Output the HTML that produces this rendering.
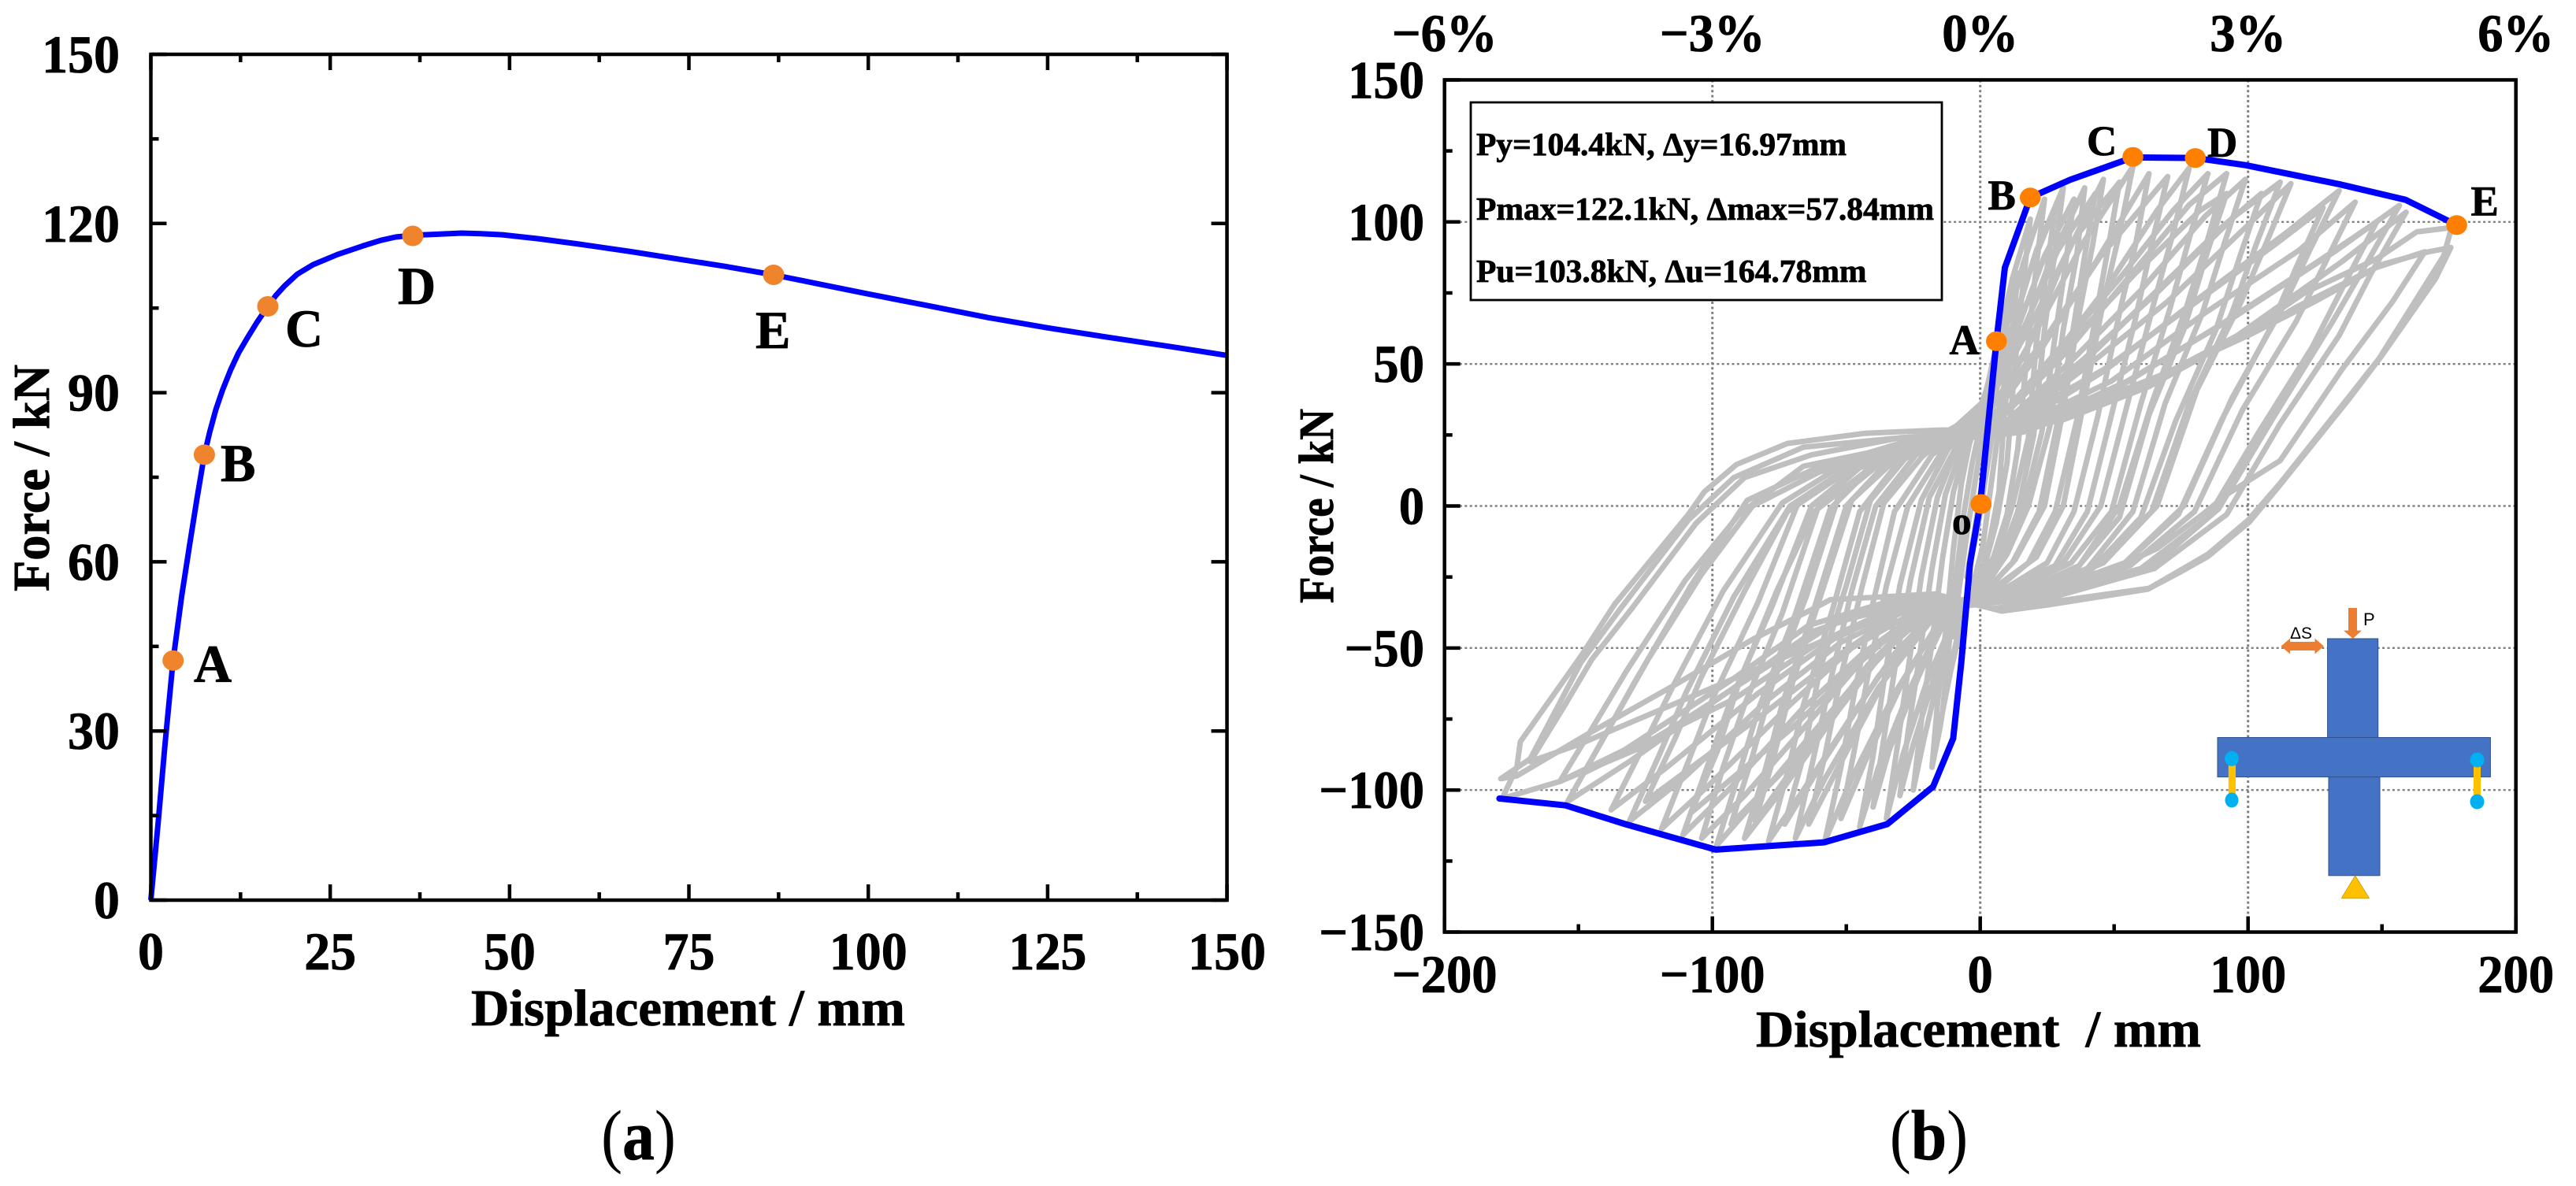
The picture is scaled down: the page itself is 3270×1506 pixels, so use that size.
<!DOCTYPE html>
<html lang="en">
<head>
<meta charset="utf-8">
<title>Force-displacement curves</title>
<style>
html,body{margin:0;padding:0;background:#fff;}
svg{display:block;}
text{font-family:"Liberation Serif","DejaVu Serif",serif;font-weight:bold;fill:#000;stroke:#000;stroke-width:0.8px;}
</style>
</head>
<body>
<svg id="fig" xmlns="http://www.w3.org/2000/svg" width="3270" height="1506" viewBox="0 0 3270 1506">
  <rect x="0" y="0" width="3270" height="1506" fill="#fff"/>
  <g id="panelA"></g>
  <g id="panelB"></g>
  <g id="schematic">
    <rect x="2954.6" y="811" width="64.1" height="125.5" fill="#4472c4" stroke="#2f528f" stroke-width="1"/>
    <rect x="2956" y="986.6" width="65" height="125.2" fill="#4472c4" stroke="#2f528f" stroke-width="1"/>
    <rect x="2815" y="936.5" width="346.4" height="50.1" fill="#4472c4" stroke="#2f528f" stroke-width="1"/>
    <polygon points="2989.7,1111.8 3007.5,1140.5 2972.3,1140.5" fill="#ffc000" stroke="#bf9000" stroke-width="0.7"/>
    <rect x="2828.8" y="964" width="9.2" height="52" fill="#ffc000"/>
    <ellipse cx="2833" cy="963.3" rx="9" ry="9.5" fill="#00b0f0"/>
    <ellipse cx="2833" cy="1016" rx="8.5" ry="9.5" fill="#00b0f0"/>
    <rect x="3140" y="966" width="9" height="52" fill="#ffc000"/>
    <ellipse cx="3144.5" cy="965" rx="9" ry="9.5" fill="#00b0f0"/>
    <ellipse cx="3144.5" cy="1018" rx="9" ry="9.5" fill="#00b0f0"/>
    <polygon points="2981,772 2992,772 2992,800.6 2998,800.6 2986.7,811 2975,800.6 2981,800.6" fill="#ed7d31"/>
    <polygon points="2895.6,820.5 2907,810.6 2907,815 2938.5,815 2938.5,810.6 2949.8,820.5 2938.5,830.5 2938.5,826 2907,826 2907,830.5" fill="#ed7d31"/>
    <text x="2907" y="811" font-size="21" style="font-family:'Liberation Sans',sans-serif;font-weight:normal;stroke:none">ΔS</text>
    <text x="3000" y="794" font-size="22" style="font-family:'Liberation Sans',sans-serif;font-weight:normal;stroke:none">P</text>
  </g>
</svg>
<script>
// Panel (a) monotonic curve
const aDisp = [0,1,2,3.1,4.3,5.4,6.4,7.46,8.2,9.06,10,11.1,12.2,13.4,14.8,16.3,17.4,18.6,20.4,22.6,26,29.5,32,34.1,36.5,40,43.3,46,49,54,59.4,67,75.5,80,86.8,93,99.6,108,116.8,125,134,142,150];
const aForce = [0,13.5,28,42.5,54,63,71,79,83,87,90.5,94,97,99.6,102.5,105.3,107.2,108.9,111,112.7,114.5,116,117,117.6,117.9,118.1,118.3,118.2,118,117.3,116.4,115,113.3,112.4,110.9,109.3,107.6,105.5,103.3,101.5,99.7,98.2,96.6];
const aPointNames = ['A','B','C','D','E'];
const aPointDisp = [3.1,7.46,16.3,36.5,86.8];
const aPointForce = [42.5,79,105.3,117.8,110.9];
const aXTicks = [0,25,50,75,100,125,150];
const aXMinor = [12.5,37.5,62.5,87.5,112.5,137.5];
const aYTicks = [0,30,60,90,120,150];
const aYMinor = [15,45,75,105,135];

// Panel (b) skeleton curve
const bSkelDisp = [-179.5,-154.8,-132.5,-98.7,-58.3,-34.7,-17.6,-10.1,-7.1,-3.8,0,6.06,9.2,18.7,33.5,57,80.3,99,133.9,158.8,177.9];
const bSkelForce = [-103,-105.4,-112,-121,-118.4,-112,-98.8,-81.8,-55.3,-20.3,0.7,58,83.9,108.6,114.8,122.7,122.5,120,113.3,107.8,98.9];
const bPointNames = ['o','A','B','C','D','E'];
const bPointDisp = [0.3,6.06,18.7,57,80.3,177.9];
const bPointForce = [0.7,58,108.6,122.9,122.5,98.9];
const bXTicks = [-200,-100,0,100,200];
const bXMinor = [-150,-50,50,150];
const bYTicks = [-150,-100,-50,0,50,100,150];
const bYMinor = [-125,-75,-25,25,75,125];
const bTopLabels = ['−6%','−3%','0%','3%','6%'];
const bGridX = [-100,0,100];
const bGridY = [-100,-50,0,50,100];

// Panel (b) hysteresis cycles: [displacement, force]
const cycle1 = [[-5,-25],[-2,-8],[1,10],[5,28],[2,10],[-1,-8],[-5,-25]];
const cycle2 = [[-10,-46],[-8,-30],[-5,-10],[-2,8],[1,25],[5,38],[10,52],[8,35],[5,14],[3,0],[1,-14],[-2,-25],[-5,-33],[-10,-46]];
const cycle3 = [[-14,-72],[-12,-52],[-9,-25],[-6,-2],[-3,15],[0,28],[4,48],[9,68],[14,82],[12,60],[9,32],[7,5],[4,-10],[1,-22],[-3,-30],[-7,-42],[-11,-58],[-14,-72]];
const cycle4 = [[-18,-92],[-16,-70],[-13,-45],[-10,-15],[-7,8],[-4,22],[1,36],[6,55],[12,80],[18.7,101],[16,78],[13,50],[10,15],[6,-6],[2,-20],[-4,-31],[-8,-44],[-12,-60],[-15,-78],[-18,-92]];
const cycle5 = [[-25,-100],[-22,-76],[-18,-48],[-14,-18],[-10,5],[-5,22],[2,40],[9,60],[16,85],[24,108],[21,85],[18,58],[14,20],[10,-3],[5,-18],[-2,-30],[-10,-42],[-16,-62],[-21,-82],[-25,-100]];
const cycle6 = [[-35,-110],[-31,-85],[-27,-58],[-22,-25],[-16,3],[-9,20],[2,38],[11,60],[21,90],[31,112],[28,90],[24,62],[20,25],[14,-2],[8,-17],[1,-28],[-10,-40],[-20,-62],[-29,-88],[-35,-110]];
const cycle7 = [[-45,-113],[-40,-88],[-36,-62],[-30,-28],[-22,2],[-12,20],[3,36],[14,56],[26,86],[39,112],[36,88],[31,62],[26,28],[18,0],[10,-17],[2,-28],[-14,-40],[-26,-64],[-38,-92],[-45,-113]];
const cycle8 = [[-58,-118],[-52,-92],[-47,-66],[-40,-34],[-32,-2],[-18,18],[4,34],[17,54],[30,84],[46,115],[42,92],[37,68],[31,34],[24,0],[13,-19],[3,-29],[-16,-42],[-32,-66],[-48,-96],[-58,-118]];
const cycle9 = [[-69,-117],[-63,-92],[-56,-62],[-48,-30],[-39,0],[-24,18],[5.7,36],[20,60],[38,92],[57,119.5],[52,96],[46,72],[39,38],[31,0],[21,-18],[5,-29],[-18,-40],[-38,-64],[-58,-96],[-69,-117]];
const cycle10 = [[-73,-112],[-66,-88],[-60,-58],[-50,-28],[-41,2],[-26,19],[5,32],[22,54],[42,84],[63,117],[58,92],[52,68],[44,32],[35,-2],[25,-20],[6,-31],[-18,-38],[-38,-60],[-60,-92],[-73,-112]];
const cycle11 = [[-79,-118],[-72,-94],[-66,-70],[-55,-36],[-45,-2],[-30,16],[7,30],[27,52],[48,78],[66,104],[78,119],[72,96],[65,72],[55,36],[45,0],[31,-20],[8,-31],[-16,-36],[-32,-52],[-48,-74],[-66,-100],[-79,-118]];
const cycle12 = [[-88,-117],[-80,-92],[-74,-70],[-62,-36],[-50,0],[-33,17],[8,32],[30,56],[52,80],[72,104],[85,117],[78,94],[71,70],[60,36],[49,-2],[34,-20],[9,-31],[-18,-36],[-35,-50],[-53,-72],[-74,-100],[-88,-117]];
const cycle13 = [[-98.4,-119.5],[-90,-94],[-83,-72],[-69,-38],[-56,-1],[-39,15],[-15,24],[9,32],[32,54],[55,80],[78,106],[92,117],[85,94],[77,70],[64,36],[52,0],[37,-21],[11,-32],[-20,-38],[-39,-54],[-59,-76],[-84,-104],[-98.4,-119.5]];
const cycle14 = [[-104,-117],[-96,-92],[-88,-70],[-74,-38],[-60,1],[-42,16],[-16,24],[10,30],[35,52],[60,76],[84,102],[99,115],[91,92],[83,68],[69,36],[57,-2],[40,-22],[12,-32],[-21,-37],[-42,-52],[-62,-74],[-88,-102],[-104,-117]];
const cycle15 = [[-111,-115.8],[-102,-92],[-93,-68],[-78,-36],[-63,0],[-45,14],[-17,23],[11,30],[39,52],[67,76],[95,102],[112,114],[103,92],[94,68],[78,36],[64,-2],[45,-20],[14,-33],[-22,-37],[-44,-52],[-67,-72],[-94,-100],[-111,-115.8]];
const cycle16 = [[-119,-113.7],[-109,-90],[-100,-68],[-83,-34],[-68,1],[-48,14],[-18,23],[12,29],[41,50],[70,72],[99,98],[116,113.5],[107,93],[97,71],[81,41],[66,0],[46,-20],[14,-33],[-24,-37],[-48,-50],[-71,-70],[-101,-98],[-119,-113.7]];
const cycle17 = [[-131,-111],[-120,-88],[-110,-66],[-92,-32],[-71,0],[-50,13],[-20,23],[13,28],[47,48],[80,72],[114,96],[134,111],[123,90],[113,70],[94,38],[76,0],[54,-20],[16,-33],[-26,-36],[-52,-48],[-79,-68],[-111,-96],[-131,-111]];
const cycle18 = [[-137.8,-107],[-126,-85],[-115,-64],[-96,-30],[-74,1],[-52,14],[-21,23],[14,28],[49,44],[84,68],[119,90],[140,107],[129,86],[118,65],[98,34],[80,-2],[56,-21],[17,-33],[-28,-35],[-55,-47],[-83,-66],[-117,-92],[-137.8,-107]];
const cycle19 = [[-154,-104],[-142,-84],[-129,-62],[-108,-28],[-87,2],[-62,13],[-23,24],[16,27],[55,44],[94,66],[133,90],[156.5,105.8],[144,85],[131,64],[110,32],[89,-1],[63,-22],[19,-33],[-31,-34],[-62,-44],[-92,-64],[-131,-90],[-154,-104]];
const cycle20 = [[-157,-97],[-146,-80],[-132,-58],[-110,-26],[-90,-3],[-66,14],[-25,22],[16,26],[56,40],[96,60],[135,86],[159,103.4],[146,82],[134,60],[112,29],[92,-3],[65,-22],[20,-34],[-32,-33],[-64,-42],[-94,-62],[-133,-86],[-157,-97]];
const cycle21 = [[-178.5,-103],[-173,-92],[-171.7,-83],[-149,-52.8],[-136.4,-34.5],[-109,-3],[-103,5],[-91,14.6],[-72,22],[-43,25.6],[-16,26.7],[10,27],[30,30],[63,42],[84,53],[104,64],[121,75],[148,87],[163,96.5],[176,98],[173,88],[149,52],[139,40],[112,8],[100,-5],[85,-17],[74,-23],[63,-29],[25,-34],[5,-36],[-17,-32],[-54,-41],[-88,-61.7],[-114,-77.5],[-129,-86],[-157,-97],[-178.5,-103]];
const cycle22 = [[-179,-96],[-168,-89],[-149,-55],[-135,-37],[-109,-5],[-92,10],[-66,20.7],[-33,23.7],[10,27],[30,30.6],[62.7,42.5],[84,53.4],[104,62],[118,70],[150,85],[167,89.4],[175.7,91],[170,80],[150,53],[138,38],[111.6,7],[100.4,-5.7],[85,-17.8],[74.4,-23.4],[62.6,-29.3],[25.4,-34.8],[8,-37],[-17,-31],[-56,-33],[-62,-36],[-85,-47],[-114,-63],[-146,-80],[-173,-95],[-179,-96]];
const cycle23 = [[-168,-90],[-155,-70],[-145,-54],[-130,-36],[-106,-6],[-88,10],[-63,18],[-30,24],[12,26],[35,34],[70,47],[100,60],[125,72],[148,84],[166,89.5],[154,72],[135,48],[112,16],[92,4],[83,-3],[66,-15],[50,-22],[10,-32],[-18,-34],[-50,-44],[-85,-58],[-120,-72],[-150,-84],[-168,-90]];
const cycle24 = [[-30,-102],[-27,-80],[-23,-55],[-18,-22],[-13,4],[-7,20],[2,36],[10,56],[19,84],[28,105],[25,84],[21,58],[18,24],[12,0],[6,-18],[0,-29],[-8,-38],[-17,-60],[-25,-84],[-30,-102]];
const cycle25 = [[-40,-106],[-36,-82],[-32,-58],[-26,-26],[-19,3],[-10,19],[3,38],[13,60],[24,88],[35,108],[32,86],[28,60],[23,26],[16,-1],[9,-18],[1,-30],[-12,-38],[-23,-60],[-34,-86],[-40,-106]];
const cycle26 = [[-52,-110],[-47,-86],[-42,-60],[-35,-28],[-27,0],[-15,18],[4,40],[16,62],[29,90],[43,110],[39,88],[35,64],[29,30],[22,-2],[12,-20],[2,-30],[-15,-40],[-29,-62],[-43,-90],[-52,-110]];
const cycle27 = [[-64,-112],[-58,-88],[-52,-60],[-44,-28],[-36,1],[-22,17],[5,40],[19,64],[35,94],[52,114],[48,92],[43,66],[36,30],[28,-2],[18,-20],[4,-31],[-17,-38],[-35,-60],[-53,-92],[-64,-112]];
const cycle28 = [[-84,-111],[-77,-88],[-70,-62],[-59,-30],[-48,2],[-32,16],[6,36],[25,60],[45,88],[70,116],[64,92],[58,66],[49,32],[40,-2],[28,-21],[7,-30],[-20,-36],[-42,-56],[-62,-82],[-84,-111]];
const cycle29 = [[-93,-112],[-85,-88],[-78,-64],[-65,-32],[-53,3],[-36,16],[8,32],[32,56],[58,82],[82,104],[92,110],[85,90],[76,62],[63,32],[52,-4],[36,-22],[10,-32],[-20,-36],[-42,-58],[-64,-84],[-93,-112]];
const cycle30 = [[-108,-108],[-98,-86],[-90,-62],[-76,-30],[-62,-2],[-43,12],[10,30],[38,50],[64,74],[90,98],[105,110],[97,88],[88,62],[73,30],[60,-4],[42,-22],[12,-33],[-22,-36],[-46,-56],[-70,-78],[-108,-108]];
const cycle31 = [[-125,-104],[-114,-82],[-104,-60],[-88,-30],[-72,-2],[-50,12],[12,30],[46,48],[78,70],[110,92],[128,105],[118,84],[108,62],[90,30],[74,-3],[52,-22],[15,-33],[-26,-35],[-52,-52],[-82,-74],[-125,-104]];
const cycle32 = [[-148,-94],[-136,-74],[-124,-54],[-104,-24],[-85,0],[-60,12],[14,28],[52,42],[90,64],[126,86],[148,100],[137,80],[124,56],[104,26],[85,-4],[60,-22],[18,-33],[-30,-35],[-60,-48],[-92,-68],[-148,-94]];
const cycles = [cycle1,cycle2,cycle3,cycle4,cycle5,cycle6,cycle7,cycle8,cycle9,cycle10,cycle11,cycle12,cycle13,cycle14,cycle15,cycle16,cycle17,cycle18,cycle19,cycle20,cycle21,cycle22,cycle23,cycle24,cycle25,cycle26,cycle27,cycle28,cycle29,cycle30,cycle31,cycle32];

const NS = 'http://www.w3.org/2000/svg';
const panelA = document.getElementById('panelA');
const panelB = document.getElementById('panelB');

function mk(parent, tag, attrs) {
  const el = document.createElementNS(NS, tag);
  for (const k in attrs) el.setAttribute(k, attrs[k]);
  parent.appendChild(el);
  return el;
}
function tx(parent, str, x, y, size, anchor, sx, rot) {
  const el = mk(parent, 'text', {'font-size': size, 'text-anchor': anchor,
    transform: 'translate(' + x + ',' + y + ')' + (rot ? ' rotate(' + rot + ')' : '') + ' scale(' + sx + ',1)'});
  el.textContent = str;
  return el;
}
function pathOf(ds, fs, xf, yf) {
  return ds.map((d, i) => (i ? 'L' : 'M') + xf(d).toFixed(1) + ' ' + yf(fs[i]).toFixed(1)).join('');
}

// Axis functions
const ax = d => 191.5 + d * 9.107;
const ay = f => 1143 - f * 7.16;
const bx = d => 2513.7 + d * 3.4;
const by = f => 642.5 - f * 3.607;

/* ---------- Panel (a) ---------- */
const aCurve = mk(panelA, 'path', {d: pathOf(aDisp, aForce, ax, ay), fill: 'none', stroke: '#0000ff', 'stroke-width': 7, 'stroke-linejoin': 'round'});



aPointNames.forEach((name, i) => {
  const m = mk(panelA, 'ellipse', {cx: ax(aPointDisp[i]), cy: ay(aPointForce[i]), rx: 13.5, ry: 13, fill: '#f0842c'});
  
  
});
const aLabelX = [246,280,362,505,959];
const aLabelY = [866,611,440,386,442];
aPointNames.forEach((name, i) => {
  const t = tx(panelA, name, aLabelX[i], aLabelY[i], 68, 'start', 0.98);
  
  
});

const aFrame = mk(panelA, 'rect', {x: ax(0), y: ay(150), width: ax(150) - ax(0), height: ay(0) - ay(150), fill: 'none', stroke: '#000', 'stroke-width': 4.5});



aXTicks.forEach(v => {
  const b = mk(panelA, 'line', {x1: ax(v), x2: ax(v), y1: ay(0), y2: ay(0) - 20, stroke: '#000', 'stroke-width': 4.5});
  
  
  const t = mk(panelA, 'line', {x1: ax(v), x2: ax(v), y1: ay(150), y2: ay(150) + 20, stroke: '#000', 'stroke-width': 4.5});
  
  
  const l = tx(panelA, String(v), ax(v), 1231, 68, 'middle', 0.97);
  
  
});
aXMinor.forEach(v => {
  const b = mk(panelA, 'line', {x1: ax(v), x2: ax(v), y1: ay(0), y2: ay(0) - 10, stroke: '#000', 'stroke-width': 4.5});
  
  
  const t = mk(panelA, 'line', {x1: ax(v), x2: ax(v), y1: ay(150), y2: ay(150) + 10, stroke: '#000', 'stroke-width': 4.5});
  
  
});
aYTicks.forEach(v => {
  const b = mk(panelA, 'line', {x1: ax(0), x2: ax(0) + 20, y1: ay(v), y2: ay(v), stroke: '#000', 'stroke-width': 4.5});
  
  
  const r = mk(panelA, 'line', {x1: ax(150), x2: ax(150) - 20, y1: ay(v), y2: ay(v), stroke: '#000', 'stroke-width': 4.5});
  
  
  const l = tx(panelA, String(v), 152, ay(v) + 23, 68, 'end', 0.97);
  
  
});
aYMinor.forEach(v => {
  const b = mk(panelA, 'line', {x1: ax(0), x2: ax(0) + 10, y1: ay(v), y2: ay(v), stroke: '#000', 'stroke-width': 4.5});
  
  
});

const aXTitle = mk(panelA, 'text', {x: 598, y: 1302, 'font-size': 66, textLength: 551, lengthAdjust: 'spacingAndGlyphs'});
aXTitle.textContent = 'Displacement / mm';


const aYTitle = mk(panelA, 'text', {'font-size': 66, textLength: 288, lengthAdjust: 'spacingAndGlyphs', transform: 'translate(62,751) rotate(-90)'});
aYTitle.textContent = 'Force / kN';



/* ---------- Panel (b) ---------- */
bGridX.forEach(v => {
  const g = mk(panelB, 'line', {x1: bx(v), x2: bx(v), y1: by(150), y2: by(-150), stroke: '#808080', 'stroke-width': 3, 'stroke-dasharray': '3 3.4'});
  
  
});
bGridY.forEach(v => {
  const g = mk(panelB, 'line', {x1: bx(-200), x2: bx(200), y1: by(v), y2: by(v), stroke: '#808080', 'stroke-width': 2.4, 'stroke-dasharray': '3 3.4'});
  
  
});

const cycleGroup = mk(panelB, 'g', {fill: 'none', stroke: '#bfbfbf', 'stroke-width': 7, 'stroke-linejoin': 'round', 'stroke-linecap': 'round'});


cycles.forEach((cy, i) => {
  const p = mk(cycleGroup, 'path', {d: pathOf(cy.map(q => q[0]), cy.map(q => q[1]), bx, by)});
  
  
});

const skeleton = mk(panelB, 'path', {d: pathOf(bSkelDisp, bSkelForce, bx, by), fill: 'none', stroke: '#0000ff', 'stroke-width': 8, 'stroke-linejoin': 'round', 'stroke-linecap': 'round'});



bPointNames.forEach((name, i) => {
  const m = mk(panelB, 'ellipse', {cx: bx(bPointDisp[i]), cy: by(bPointForce[i]), rx: 13.3, ry: 12.5, fill: '#ff7f00'});
  
  
});
const bLabelX = [2478,2474.5,2523.5,2649,2802,3136.5];
const bLabelY = [678,450,266,197,199,273.6];
const bLabelSize = [50,54,54,54,54,54];
bPointNames.forEach((name, i) => {
  const t = tx(panelB, name, bLabelX[i], bLabelY[i], bLabelSize[i], 'start', 0.98);
  
  
});

const infoBox = mk(panelB, 'rect', {x: 1867, y: 130, width: 598, height: 251, fill: '#fff', stroke: '#000', 'stroke-width': 2.8});


const infoLines = ['Py=104.4kN, Δy=16.97mm','Pmax=122.1kN, Δmax=57.84mm','Pu=103.8kN, Δu=164.78mm'];
const infoY = [197,279,358];
const infoWidths = [470,581,495.5];
infoLines.forEach((s, i) => {
  const t = mk(panelB, 'text', {x: 1874, y: infoY[i], 'font-size': 41, textLength: infoWidths[i], lengthAdjust: 'spacingAndGlyphs'});
  t.textContent = s;
  
  
});

const bFrame = mk(panelB, 'rect', {x: bx(-200), y: by(150), width: bx(200) - bx(-200), height: by(-150) - by(150), fill: 'none', stroke: '#000', 'stroke-width': 4.5});



bXTicks.forEach((v, i) => {
  const b = mk(panelB, 'line', {x1: bx(v), x2: bx(v), y1: by(-150), y2: by(-150) - 20, stroke: '#000', 'stroke-width': 4.5});
  
  
  const l = tx(panelB, String(v).replace('-', '−'), bx(v), 1260, 68, 'middle', 0.95);
  
  
  const top = tx(panelB, bTopLabels[i], bx(v), 65, 68, 'middle', 0.95);
  
  
});
bXMinor.forEach(v => {
  const b = mk(panelB, 'line', {x1: bx(v), x2: bx(v), y1: by(-150), y2: by(-150) - 10, stroke: '#000', 'stroke-width': 4.5});
  
  
});
bYTicks.forEach(v => {
  const b = mk(panelB, 'line', {x1: bx(-200), x2: bx(-200) + 20, y1: by(v), y2: by(v), stroke: '#000', 'stroke-width': 4.5});
  
  
  const l = tx(panelB, String(v).replace('-', '−'), 1808, by(v) + 23, 68, 'end', 0.95);
  
  
});
bYMinor.forEach(v => {
  const b = mk(panelB, 'line', {x1: bx(-200), x2: bx(-200) + 10, y1: by(v), y2: by(v), stroke: '#000', 'stroke-width': 4.5});
  
  
});

const bXTitle = mk(panelB, 'text', {x: 2229, y: 1329, 'font-size': 66, textLength: 565, lengthAdjust: 'spacingAndGlyphs'});
bXTitle.textContent = 'Displacement\u00a0\u00a0/ mm';


const bYTitle = mk(panelB, 'text', {'font-size': 62, textLength: 247, lengthAdjust: 'spacingAndGlyphs', transform: 'translate(1692,766) rotate(-90)'});
bYTitle.textContent = 'Force / kN';



/* ---------- Captions ---------- */
const fig = document.getElementById('fig');
function caption(letter, x1, width, name) {
  const c = mk(fig, 'text', {x: x1, y: 1472, 'font-size': 90, textLength: width, lengthAdjust: 'spacingAndGlyphs'});
  const a = mk(c, 'tspan', {style: 'font-weight:normal;stroke:none'});
  a.textContent = '(';
  const b = mk(c, 'tspan', {});
  b.textContent = letter;
  const d = mk(c, 'tspan', {style: 'font-weight:normal;stroke:none'});
  d.textContent = ')';
  
  
}
caption('a', 763, 95, 'panel-a-caption');
caption('b', 2398.7, 99.5, 'panel-b-caption');
</script>
</body>
</html>
